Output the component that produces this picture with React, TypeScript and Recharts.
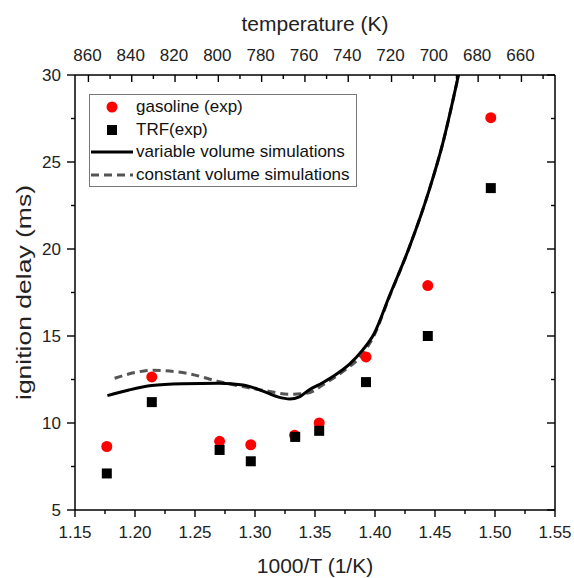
import React from 'react';
import { ComposedChart, Line, Scatter, XAxis, YAxis, Legend, Label } from 'recharts';

const FONT = '"Liberation Sans", Arial, sans-serif';

// experimental points (1000/T, ignition delay ms)
const gasolineX = [1.1765, 1.214, 1.2705, 1.2965, 1.333, 1.3535, 1.3925, 1.444, 1.4965];
const gasolineY = [8.65, 12.65, 8.95, 8.75, 9.3, 10.0, 13.8, 17.9, 27.55];
const trfX = [1.1765, 1.214, 1.2705, 1.2965, 1.3335, 1.3535, 1.3925, 1.444, 1.4965];
const trfY = [7.1, 11.2, 8.45, 7.8, 9.2, 9.55, 12.35, 15.0, 23.5];

// simulations
const varVolX = [1.177, 1.195, 1.214, 1.24, 1.27, 1.29, 1.306, 1.319, 1.329, 1.337, 1.345, 1.356, 1.3677, 1.379, 1.3898, 1.399, 1.412, 1.4286, 1.4452, 1.4562, 1.4696];
const varVolY = [11.57, 11.9, 12.15, 12.25, 12.28, 12.18, 11.85, 11.5, 11.38, 11.5, 11.9, 12.3, 12.8, 13.4, 14.2, 15.1, 17.3, 20.1, 23.4, 26.0, 30];
const constVolX = [1.183, 1.2, 1.215, 1.243, 1.2706, 1.29, 1.309, 1.329, 1.344, 1.359, 1.374, 1.3895, 1.399, 1.412, 1.4286, 1.4452, 1.4562, 1.4696];
const constVolY = [12.57, 12.9, 13.03, 12.86, 12.37, 12.09, 11.85, 11.65, 11.72, 12.3, 13.0, 13.95, 15.0, 17.25, 20.1, 23.4, 26.0, 30];

// axes
const bottomTicks = [1.15, 1.175, 1.2, 1.225, 1.25, 1.275, 1.3, 1.325, 1.35, 1.375, 1.4, 1.425, 1.45, 1.475, 1.5, 1.525, 1.55];
const topTemps = [860, 850, 840, 830, 820, 810, 800, 790, 780, 770, 760, 750, 740, 730, 720, 710, 700, 690, 680, 670, 660, 650];
const topDomain = [644.5, 866.2];
const yTicks = [5, 7.5, 10, 12.5, 15, 17.5, 20, 22.5, 25, 27.5, 30];

const gasoline = gasolineX.map((x, i) => ({ x, y: gasolineY[i] }));
const trf = trfX.map((x, i) => ({ x, y: trfY[i] }));
const varVol = varVolX.map((x, i) => ({ x, y: varVolY[i] }));
const constVol = constVolX.map((x, i) => ({ x, y: constVolY[i] }));

const isMult = (v: number, step: number) => Math.abs(v / step - Math.round(v / step)) < 1e-6;

const BottomTick = (props: any) => {
  const { x, y, payload } = props;
  const v = payload.value;
  const major = isMult(v, 0.05);
  return (
    <g>
      <line x1={x} x2={x} y1={y} y2={y + (major ? 7 : 4)} stroke="#000" strokeWidth={1.4} />
      {major && (
        <text x={x} y={y + 28} textAnchor="middle" fontSize={17} fontFamily={FONT} fill="#222">
          {v.toFixed(2)}
        </text>
      )}
    </g>
  );
};

const TopTick = (props: any) => {
  const { x, y, payload } = props;
  const t = payload.value;
  const major = t % 20 === 0;
  return (
    <g>
      <line x1={x} x2={x} y1={y} y2={y + (major ? 7 : 4)} stroke="#000" strokeWidth={1.4} />
      {major && (
        <text x={x - 1} y={y - 14} textAnchor="middle" fontSize={17} fontFamily={FONT} fill="#222">
          {t}
        </text>
      )}
    </g>
  );
};

const LeftTick = (props: any) => {
  const { x, y, payload } = props;
  const v = payload.value;
  const major = isMult(v, 5);
  return (
    <g>
      <line x1={x} x2={x - (major ? 8 : 4)} y1={y} y2={y} stroke="#000" strokeWidth={1.4} />
      {major && (
        <text x={x - 14} y={y + 6} textAnchor="end" fontSize={17} fontFamily={FONT} fill="#222">
          {v}
        </text>
      )}
    </g>
  );
};

const RightTick = (props: any) => {
  const { x, y, payload } = props;
  const major = isMult(payload.value, 5);
  return <line x1={x} x2={x - (major ? 8 : 4)} y1={y} y2={y} stroke="#000" strokeWidth={1.4} />;
};

const Circle = (props: any) => <circle cx={props.cx} cy={props.cy} r={5.5} fill="#ff0000" />;
const Square = (props: any) => <rect x={props.cx - 5} y={props.cy - 5} width={10} height={10} fill="#000" />;

const LegendBox = () => {
  const rows = [
    { kind: 'circle', label: 'gasoline (exp)' },
    { kind: 'square', label: 'TRF(exp)' },
    { kind: 'solid', label: 'variable volume simulations' },
    { kind: 'dashed', label: 'constant volume simulations' },
  ];
  return (
    <div
      style={{
        width: 268,
        height: 93,
        boxSizing: 'border-box',
        border: '1px solid #777',
        background: '#fff',
        fontFamily: FONT,
        fontSize: 17,
        color: '#111',
        position: 'relative',
      }}
    >
      {rows.map((r, i) => {
        const cy = 12 + i * 22.6;
        return (
          <div key={r.label} style={{ position: 'absolute', left: 0, top: cy - 11, height: 22, width: 266 }}>
            <svg width={46} height={22} style={{ position: 'absolute', left: 0, top: 0 }}>
              {r.kind === 'circle' && <circle cx={22} cy={11} r={5.5} fill="#ff0000" />}
              {r.kind === 'square' && <rect x={17} y={6} width={10} height={10} fill="#000" />}
              {r.kind === 'solid' && <line x1={1} x2={43} y1={11} y2={11} stroke="#000" strokeWidth={3} />}
              {r.kind === 'dashed' && (
                <line x1={1} x2={43} y1={11} y2={11} stroke="#555" strokeWidth={3} strokeDasharray="8 5" />
              )}
            </svg>
            <span style={{ position: 'absolute', left: 46, top: 0, lineHeight: '22px', whiteSpace: 'nowrap' }}>
              {r.label}
            </span>
          </div>
        );
      })}
    </div>
  );
};

const YTitle = (props: any) => {
  const { viewBox } = props;
  const cx = viewBox.x + 23;
  const cy = viewBox.y + viewBox.height / 2;
  return (
    <text
      x={cx}
      y={cy}
      transform={`rotate(-90, ${cx}, ${cy})`}
      textAnchor="middle"
      dominantBaseline="central"
      fontSize={21}
      textLength={215}
      lengthAdjust="spacingAndGlyphs"
      fontFamily={FONT}
      fill="#222"
    >
      ignition delay (ms)
    </text>
  );
};

const BottomTitle = (props: any) => {
  const { viewBox } = props;
  return (
    <text x={viewBox.x + viewBox.width / 2} y={viewBox.y + 63} textAnchor="middle" fontSize={21} fontFamily={FONT} fill="#222">
      1000/T (1/K)
    </text>
  );
};

const TopTitle = (props: any) => {
  const { viewBox } = props;
  return (
    <text x={viewBox.x + viewBox.width / 2} y={viewBox.y + 31} textAnchor="middle" fontSize={21} fontFamily={FONT} fill="#222">
      temperature (K)
    </text>
  );
};

export default function App() {
  return (
    <div style={{ position: 'absolute', left: 0, top: 0, width: 574, height: 578, background: '#fff' }}>
      <ComposedChart width={574} height={578} margin={{ top: 0, right: 18, bottom: 0, left: 0 }}>
        <XAxis
          xAxisId="bottom"
          dataKey="x"
          type="number"
          orientation="bottom"
          domain={[1.15, 1.55]}
          allowDataOverflow
          ticks={bottomTicks}
          interval={0}
          height={68}
          tickSize={0}
          tickMargin={0}
          tickLine={false}
          tick={<BottomTick />}
          axisLine={{ stroke: '#000', strokeWidth: 1.5 }}
        >
          <Label content={<BottomTitle />} />
        </XAxis>
        <XAxis
          xAxisId="top"
          dataKey="t"
          type="number"
          orientation="top"
          reversed
          domain={topDomain}
          allowDataOverflow
          ticks={topTemps}
          interval={0}
          height={75}
          tickSize={0}
          tickMargin={0}
          tickLine={false}
          tick={<TopTick />}
          axisLine={{ stroke: '#000', strokeWidth: 1.5 }}
        >
          <Label content={<TopTitle />} />
        </XAxis>
        <YAxis
          yAxisId="left"
          dataKey="y"
          type="number"
          orientation="left"
          domain={[5, 30]}
          allowDataOverflow
          ticks={yTicks}
          interval={0}
          width={75}
          tickSize={0}
          tickMargin={0}
          tickLine={false}
          tick={<LeftTick />}
          axisLine={{ stroke: '#000', strokeWidth: 1.5 }}
        >
          <Label content={<YTitle />} />
        </YAxis>
        <YAxis
          yAxisId="right"
          dataKey="y"
          type="number"
          orientation="right"
          domain={[5, 30]}
          allowDataOverflow
          ticks={yTicks}
          interval={0}
          width={1}
          tickSize={0}
          tickMargin={0}
          tickLine={false}
          tick={<RightTick />}
          axisLine={{ stroke: '#000', strokeWidth: 1.5 }}
        />
        <Legend
          layout="vertical"
          align="center"
          verticalAlign="middle"
          wrapperStyle={{ position: 'absolute', left: 89, top: 94, width: 268, height: 93 }}
          content={() => <LegendBox />}
        />
        <Line
          xAxisId="bottom"
          yAxisId="left"
          data={constVol}
          dataKey="y"
          type="monotone"
          stroke="#555"
          strokeWidth={3}
          strokeDasharray="8 5"
          dot={false}
          activeDot={false}
          isAnimationActive={false}
        />
        <Line
          xAxisId="bottom"
          yAxisId="left"
          data={varVol}
          dataKey="y"
          type="monotone"
          stroke="#000"
          strokeWidth={3}
          dot={false}
          activeDot={false}
          isAnimationActive={false}
        />
        <Scatter xAxisId="bottom" yAxisId="left" data={gasoline} dataKey="y" shape={<Circle />} isAnimationActive={false} />
        <Scatter xAxisId="bottom" yAxisId="left" data={trf} dataKey="y" shape={<Square />} isAnimationActive={false} />
      </ComposedChart>
    </div>
  );
}
